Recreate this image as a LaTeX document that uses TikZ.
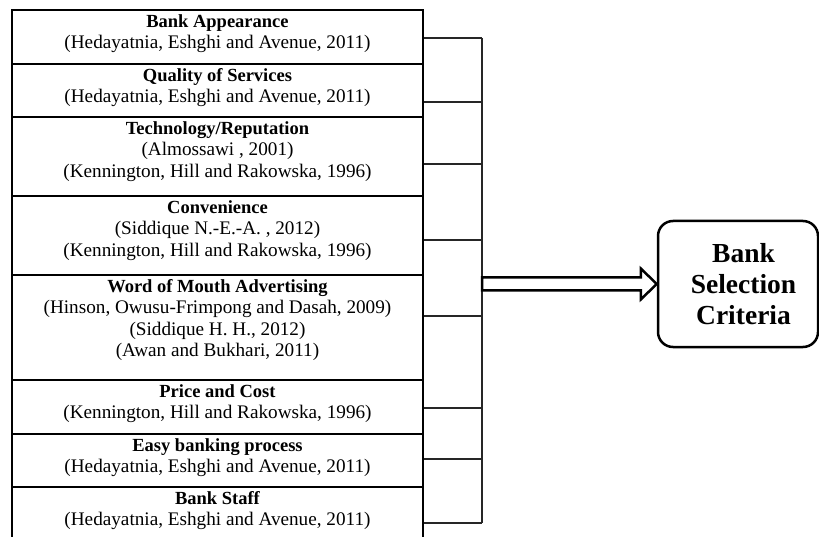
\documentclass[tikz,border=0pt]{standalone}
\usepackage{fontspec}
\setmainfont{Liberation Serif}
\usetikzlibrary{calc}
\newcommand\cellhead[1]{{\fontsize{18.5}{21.5}\selectfont\bfseries #1}}
\begin{document}
\begin{tikzpicture}[x=1pt,y=-1pt,
  boxcell/.style={draw, line width=2pt, anchor=north west, minimum width=411pt, inner sep=0pt},
  celltext/.style={anchor=north, align=center, inner xsep=0pt, inner ysep=3pt,
    font=\fontsize{19.2}{21.5}\selectfont},
  brk/.style={line width=1.5pt, draw=black!85},
  arrowline/.style={line width=2.5pt, line join=miter, fill=white},
  resultbox/.style={draw, line width=2.5pt, rounded corners=15pt, minimum width=160pt,
    minimum height=126pt, inner sep=0pt, font=\fontsize{27.5}{31}\selectfont\bfseries}]
\useasboundingbox (0,0) rectangle (819,537);

% left column of criteria
\node[boxcell, minimum height=54pt] (b1) at (11,9) {};
\node[boxcell, minimum height=53pt] (b2) at (11,63) {};
\node[boxcell, minimum height=79pt] (b3) at (11,116) {};
\node[boxcell, minimum height=79pt] (b4) at (11,195) {};
\node[boxcell, minimum height=105pt] (b5) at (11,274) {};
\node[boxcell, minimum height=54pt] (b6) at (11,379) {};
\node[boxcell, minimum height=53pt] (b7) at (11,433) {};
\node[boxcell, minimum height=80pt] (b8) at (11,486) {};

\node[celltext] (t1) at (b1.north) {\strut\cellhead{Bank Appearance}\\(Hedayatnia, Eshghi and Avenue, 2011)};
\node[celltext] (t2) at (b2.north) {\strut\cellhead{Quality of Services}\\(Hedayatnia, Eshghi and Avenue, 2011)};
\node[celltext] (t3) at (b3.north) {\strut\cellhead{Technology/Reputation}\\(Almossawi , 2001)\\(Kennington, Hill and Rakowska, 1996)};
\node[celltext] (t4) at (b4.north) {\strut\cellhead{Convenience}\\(Siddique N.-E.-A. , 2012)\\(Kennington, Hill and Rakowska, 1996)};
\node[celltext] (t5) at (b5.north) {\strut\cellhead{Word of Mouth Advertising}\\(Hinson, Owusu-Frimpong and Dasah, 2009)\\(Siddique H. H., 2012)\\(Awan and Bukhari, 2011)};
\node[celltext] (t6) at (b6.north) {\strut\cellhead{Price and Cost}\\(Kennington, Hill and Rakowska, 1996)};
\node[celltext] (t7) at (b7.north) {\strut\cellhead{Easy banking process}\\(Hedayatnia, Eshghi and Avenue, 2011)};
\node[celltext] (t8) at (b8.north) {\strut\cellhead{Bank Staff}\\(Hedayatnia, Eshghi and Avenue, 2011)};

% bracket
\coordinate (k1) at (482,38);
\coordinate (k2) at (482,102);
\coordinate (k3) at (482,164);
\coordinate (k4) at (482,240);
\coordinate (k5) at (482,316);
\coordinate (k6) at (482,408);
\coordinate (k7) at (482,459);
\coordinate (k8) at (482,523);
\draw[brk] (k1) -- (k8);
\foreach \i in {1,...,8} \draw[brk] (k\i -| b1.east) -- (k\i);

% result box
\node[resultbox] (bsc) at (738,284) {\hspace*{11pt}\parbox{110pt}{\centering Bank\\Selection\\Criteria}};

% hollow arrow
\coordinate (arS) at (482,284);
\draw[arrowline] ($(arS)+(0,-6.5)$) -- ($(bsc.west)+(-16,-6.5)$) -- ($(bsc.west)+(-16,-15.5)$)
  -- (bsc.west) -- ($(bsc.west)+(-16,15.5)$) -- ($(bsc.west)+(-16,6.5)$) -- ($(arS)+(0,6.5)$) -- cycle;
\end{tikzpicture}
\end{document}
